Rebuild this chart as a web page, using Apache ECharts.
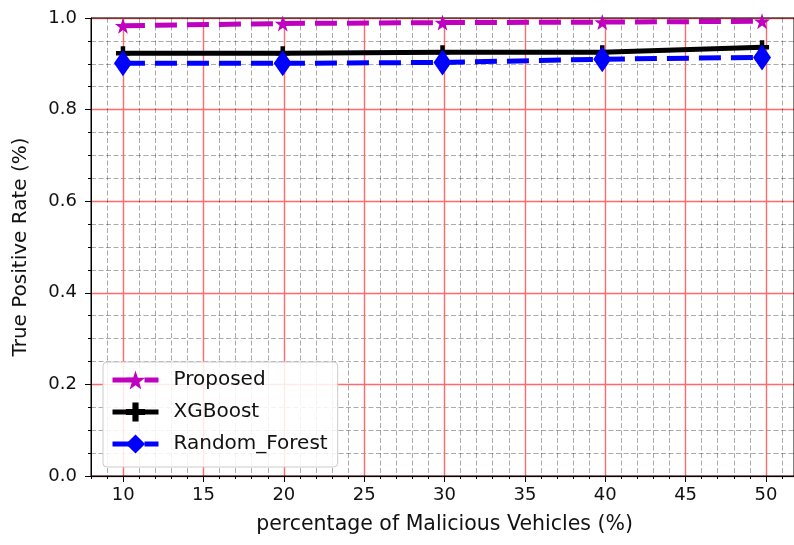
<!DOCTYPE html>
<html>
<head>
<meta charset="utf-8">
<script src="https://cdn.jsdelivr.net/npm/echarts@6/dist/echarts.min.js"></script>
<style>
  html, body { margin: 0; padding: 0; background: #fff; }
  #chart { width: 794px; height: 545px; }
</style>
</head>
<body>
<div id="chart"></div>
<script>
// Detection performance vs. share of malicious vehicles
const malicious = [10, 20, 30, 40, 50];
const proposed = [0.983, 0.988, 0.990, 0.991, 0.993];
const xgboost = [0.923, 0.923, 0.925, 0.925, 0.936];
const randomForest = [0.901, 0.901, 0.903, 0.910, 0.914];
const seriesNames = ['Proposed', 'XGBoost', 'Random_Forest'];
const xLabel = 'percentage of Malicious Vehicles (%)';
const yLabel = 'True Positive Rate (%)';

const FONT = 'DejaVu Sans';
const STAR = 'path://M50,0 L61.8,35.1 L98.1,35.1 L68.8,56.8 L79.4,91 L50,70 L20.6,91 L31.2,56.8 L1.9,35.1 L38.2,35.1 Z';
const PLUS = 'path://M34,0 H66 V34 H100 V66 H66 V100 H34 V66 H0 V34 H34 Z';

const pairs = ys => malicious.map((x, i) => [x, ys[i]]);

// layout: pixels per x unit, shared by every grid
const left0 = 91, top0 = 18, h0 = 458, pxPerUnit = 16.07;
const xMin = 8, xMax = 52;
const px = v => left0 + (v - xMin) * pxPerUnit;
const gridMinor = { show: true, lineStyle: { color: 'rgba(0,0,0,0.33)', width: 1, type: [5, 2.5] } };
const gridMajor = { show: true, lineStyle: { color: '#ff6a6a', width: 1.4 } };
const minorTickStyle = { show: true, inside: false, length: 3, lineStyle: { color: '#000' } };

// a helper grid that only contributes x grid lines / ticks over [a, b]
function sideGrid(a, b) {
  return { left: px(a), top: top0, width: (b - a) * pxPerUnit, height: h0 };
}

const chart = echarts.init(document.getElementById('chart'), null, { renderer: 'canvas' });

chart.setOption({
  animation: false,
  backgroundColor: '#fff',
  textStyle: { fontFamily: FONT },
  grid: [
    // data grid: x 8..52, black frame over the grid lines
    { left: left0, top: top0, width: (xMax - xMin) * pxPerUnit, height: h0, z: 1.5,
      show: true, borderColor: '#000', borderWidth: 1, backgroundColor: 'transparent' },
    // x 10..50: major + minor grid
    sideGrid(10, 50),
    // the integer lines outside the major range
    sideGrid(8, 9),
    sideGrid(51, 52)
  ],
  xAxis: [
    {
      gridIndex: 0, type: 'value', min: xMin, max: xMax, z: 0,
      axisLine: { show: true, onZero: false, lineStyle: { color: '#000', width: 1 } },
      axisTick: { show: false }, axisLabel: { show: false }, splitLine: { show: false }
    },
    {
      gridIndex: 1, type: 'value', min: 10, max: 50, interval: 5, z: 1,
      axisLine: { show: false, onZero: false },
      axisTick: { show: true, inside: false, length: 6, lineStyle: { color: '#000' } },
      minorTick: Object.assign({ splitNumber: 5 }, minorTickStyle),
      axisLabel: { show: true, fontSize: 18, color: '#111', margin: 10, fontFamily: FONT },
      splitLine: gridMajor,
      minorSplitLine: gridMinor,
      name: xLabel, nameLocation: 'middle', nameGap: 38,
      nameTextStyle: { fontSize: 20.5, color: '#111', fontFamily: FONT }
    },
    {
      gridIndex: 2, type: 'value', min: 8, max: 9, interval: 1, z: 0,
      axisLine: { show: false, onZero: false }, axisTick: minorTickStyle,
      axisLabel: { show: false }, splitLine: gridMinor
    },
    {
      gridIndex: 3, type: 'value', min: 51, max: 52, interval: 1, z: 0,
      axisLine: { show: false, onZero: false }, axisTick: minorTickStyle,
      axisLabel: { show: false }, splitLine: gridMinor
    }
  ],
  yAxis: [
    {
      gridIndex: 0, type: 'value', min: 0, max: 1, interval: 0.2, z: 0,
      axisLine: { show: true, onZero: false, lineStyle: { color: '#000', width: 1 } },
      axisTick: { show: true, inside: false, length: 6, lineStyle: { color: '#000' } },
      minorTick: Object.assign({ splitNumber: 4 }, minorTickStyle),
      axisLabel: { fontSize: 18, color: '#111', margin: 14, fontFamily: FONT,
                   formatter: v => v.toFixed(1) },
      splitLine: gridMajor,
      minorSplitLine: gridMinor,
      name: yLabel, nameLocation: 'middle', nameRotate: 90, nameGap: 60,
      nameTextStyle: { fontSize: 20, color: '#111', fontFamily: FONT }
    },
    { gridIndex: 1, type: 'value', min: 0, max: 1, show: false },
    { gridIndex: 2, type: 'value', min: 0, max: 1, show: false },
    { gridIndex: 3, type: 'value', min: 0, max: 1, show: false }
  ],
  legend: {
    data: seriesNames,
    orient: 'vertical',
    left: 103, top: 362,
    padding: [6, 10, 11, 7],
    itemWidth: 46, itemHeight: 24, itemGap: 8,
    backgroundColor: 'rgba(255,255,255,0.85)',
    borderColor: '#cccccc', borderWidth: 1, borderRadius: 4,
    lineStyle: { width: 5 },
    textStyle: { fontSize: 20, color: '#111', fontFamily: FONT, padding: [0, 0, 0, 10], lineHeight: 24 }
  },
  series: [
    {
      name: seriesNames[0], type: 'line', xAxisIndex: 0, yAxisIndex: 0,
      data: pairs(proposed), z: 3,
      symbol: STAR, symbolSize: 16,
      lineStyle: { color: '#bf00bf', width: 5, type: [22, 10] },
      itemStyle: { color: '#bf00bf' }
    },
    {
      name: seriesNames[1], type: 'line', xAxisIndex: 0, yAxisIndex: 0,
      data: pairs(xgboost), z: 4,
      symbol: PLUS, symbolSize: 14,
      lineStyle: { color: '#000000', width: 5 },
      itemStyle: { color: '#000000' }
    },
    {
      name: seriesNames[2], type: 'line', xAxisIndex: 0, yAxisIndex: 0,
      data: pairs(randomForest), z: 5,
      symbol: 'diamond', symbolSize: [18, 26],
      lineStyle: { color: '#0000ff', width: 5, type: [22, 10] },
      itemStyle: { color: '#0000ff' }
    }
  ]
});
</script>
</body>
</html>
